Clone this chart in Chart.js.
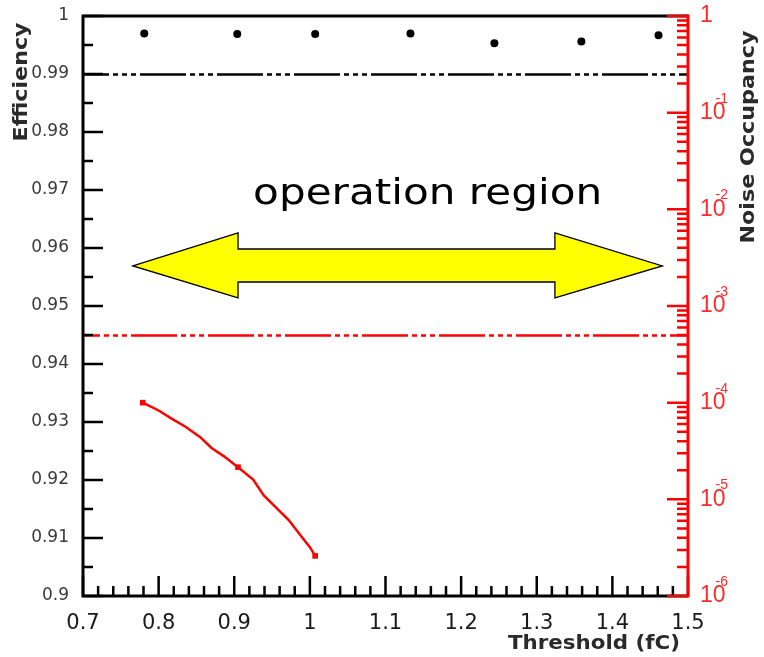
<!DOCTYPE html>
<html><head><meta charset="utf-8">
<script src="https://cdn.jsdelivr.net/npm/chart.js@4.4.1/dist/chart.umd.min.js"></script>
<style>html,body{margin:0;padding:0;background:#fff}#wrap{width:764px;height:657px}</style>
</head><body><div id="wrap"><canvas id="c" width="764" height="657"></canvas></div>
<script>
// ---- data ----
const effThreshold = [0.781, 0.904, 1.007, 1.133, 1.244, 1.359, 1.461];
const effValues    = [0.9970, 0.9969, 0.9969, 0.9970, 0.9953, 0.9956, 0.9967];

const noiseCurveThreshold = [0.779, 0.800, 0.815, 0.836, 0.855, 0.870, 0.886, 0.905, 0.925, 0.939, 0.956, 0.972, 0.987, 1.000, 1.007];
const noiseCurveValues    = [1.0e-4, 8.3e-5, 7.0e-5, 5.6e-5, 4.4e-5, 3.4e-5, 2.8e-5, 2.15e-5, 1.6e-5, 1.1e-5, 8.1e-6, 6.1e-6, 4.3e-6, 3.2e-6, 2.6e-6];
const noiseMeasThreshold  = [0.779, 0.905, 1.007];
const noiseMeasValues     = [1.0e-4, 2.15e-5, 2.6e-6];

const xTickValues = [0.7, 0.8, 0.9, 1.0, 1.1, 1.2, 1.3, 1.4, 1.5];
const xTickLabels = ['0.7', '0.8', '0.9', '1', '1.1', '1.2', '1.3', '1.4', '1.5'];
const effTickValues = [0.9, 0.91, 0.92, 0.93, 0.94, 0.95, 0.96, 0.97, 0.98, 0.99, 1.0];
const effTickLabels = ['0.9', '0.91', '0.92', '0.93', '0.94', '0.95', '0.96', '0.97', '0.98', '0.99', '1'];
const noiseTickValues = [1e-6, 1e-5, 1e-4, 1e-3, 1e-2, 1e-1, 1];
const noiseTickBase = ['10', '10', '10', '10', '10', '10', '1'];
const noiseTickExponents = ['-6', '-5', '-4', '-3', '-2', '-1', ''];

const effCut = 0.99;     // black dash-dotted line (left axis)
const noiseCut = 5e-4;   // red dash-dotted line (right axis)

const xTitle = 'Threshold (fC)';
const yTitle = 'Efficiency';
const y2Title = 'Noise Occupancy';
const regionLabel = 'operation region';
// double arrow annotation, in data units (x: threshold, y: efficiency axis)
const arrowTipX = [0.766, 1.466];
const arrowHeadBaseX = [0.905, 1.324];
const arrowCenterY = 0.9569;
const arrowHeadY = [0.95138, 0.96259];
const arrowShaftY = [0.95414, 0.95983];
const regionLabelPos = [1.1557, 0.96759];

const overlay = {
  id: 'overlay',
  beforeDatasetsDraw(chart) {
    const {ctx, chartArea: a, scales: {x, y, y2}} = chart;
    ctx.save();
    // dash-dotted cut lines
    ctx.lineWidth = 2.5;
    ctx.setLineDash([46, 4, 5, 4, 5, 4, 5, 4]);
    ctx.lineDashOffset = 20;
    ctx.strokeStyle = '#000';
    let py = Math.round(y.getPixelForValue(effCut)) + 0.5;
    ctx.beginPath(); ctx.moveTo(a.left, py); ctx.lineTo(a.right, py); ctx.stroke();
    ctx.strokeStyle = '#ff0000';
    ctx.lineDashOffset = 29;
    py = Math.round(y2.getPixelForValue(noiseCut)) + 0.5;
    ctx.beginPath(); ctx.moveTo(a.left, py); ctx.lineTo(a.right, py); ctx.stroke();
    ctx.setLineDash([]);

    // double arrow
    const X = v => x.getPixelForValue(v), Y = v => y.getPixelForValue(v);
    ctx.beginPath();
    ctx.moveTo(X(arrowTipX[0]), Y(arrowCenterY));
    ctx.lineTo(X(arrowHeadBaseX[0]), Y(arrowHeadY[1]));
    ctx.lineTo(X(arrowHeadBaseX[0]), Y(arrowShaftY[1]));
    ctx.lineTo(X(arrowHeadBaseX[1]), Y(arrowShaftY[1]));
    ctx.lineTo(X(arrowHeadBaseX[1]), Y(arrowHeadY[1]));
    ctx.lineTo(X(arrowTipX[1]), Y(arrowCenterY));
    ctx.lineTo(X(arrowHeadBaseX[1]), Y(arrowHeadY[0]));
    ctx.lineTo(X(arrowHeadBaseX[1]), Y(arrowShaftY[0]));
    ctx.lineTo(X(arrowHeadBaseX[0]), Y(arrowShaftY[0]));
    ctx.lineTo(X(arrowHeadBaseX[0]), Y(arrowHeadY[0]));
    ctx.closePath();
    ctx.fillStyle = '#ffff00';
    ctx.fill();
    ctx.lineWidth = 1.3;
    ctx.strokeStyle = '#000';
    ctx.lineJoin = 'miter';
    ctx.stroke();

    // region label
    ctx.font = '35px "DejaVu Sans"';
    ctx.fillStyle = '#000';
    ctx.textAlign = 'center';
    ctx.textBaseline = 'alphabetic';
    const w = ctx.measureText(regionLabel).width;
    ctx.translate(X(regionLabelPos[0]), Y(regionLabelPos[1]));
    ctx.scale(349 / w, 1);
    ctx.fillText(regionLabel, 0, 0);
    ctx.restore();
  },
  afterDraw(chart) {
    const {ctx, chartArea: a, scales: {x, y, y2}} = chart;
    ctx.save();
    ctx.lineCap = 'butt';
    // black axes
    ctx.strokeStyle = '#000';
    ctx.lineWidth = 3;
    ctx.beginPath();
    ctx.moveTo(a.right, a.top); ctx.lineTo(a.left, a.top);
    ctx.lineTo(a.left, a.bottom); ctx.lineTo(a.right, a.bottom);
    ctx.stroke();
    ctx.lineWidth = 2.5;
    // left ticks
    ctx.beginPath();
    for (let i = 0; i < effTickValues.length; i++) {
      const p = y.getPixelForValue(effTickValues[i]);
      ctx.moveTo(a.left, p); ctx.lineTo(a.left + 20, p);
      if (i < effTickValues.length - 1) {
        const m = y.getPixelForValue((effTickValues[i] + effTickValues[i + 1]) / 2);
        ctx.moveTo(a.left, m); ctx.lineTo(a.left + 10, m);
      }
    }
    // bottom ticks
    for (let i = 0; i < xTickValues.length; i++) {
      const p = x.getPixelForValue(xTickValues[i]);
      ctx.moveTo(p, a.bottom); ctx.lineTo(p, a.bottom - 20);
      if (i < xTickValues.length - 1) {
        for (let k = 1; k < 5; k++) {
          const m = x.getPixelForValue(xTickValues[i] + (xTickValues[i + 1] - xTickValues[i]) * k / 5);
          ctx.moveTo(m, a.bottom); ctx.lineTo(m, a.bottom - 10);
        }
      }
    }
    ctx.stroke();
    // red right axis
    ctx.strokeStyle = '#ff0000';
    ctx.lineWidth = 3;
    ctx.beginPath(); ctx.moveTo(a.right, a.top - 1.5); ctx.lineTo(a.right, a.bottom + 1.5); ctx.stroke();
    ctx.lineWidth = 2.5;
    ctx.beginPath();
    for (let i = 0; i < noiseTickValues.length; i++) {
      const v = noiseTickValues[i];
      const p = y2.getPixelForValue(v);
      ctx.moveTo(a.right, p); ctx.lineTo(a.right - 21, p);
      if (i < noiseTickValues.length - 1) {
        for (let m = 2; m < 10; m++) {
          const q = y2.getPixelForValue(v * m);
          ctx.moveTo(a.right, q); ctx.lineTo(a.right - 11, q);
        }
      }
    }
    ctx.stroke();

    // exponents of the right-axis labels
    ctx.fillStyle = '#ff2a2a';
    ctx.textAlign = 'left';
    ctx.textBaseline = 'alphabetic';
    const baseFont = '23px "Liberation Sans"';
    for (let i = 0; i < noiseTickValues.length; i++) {
      if (!noiseTickExponents[i]) continue;
      const p = y2.getPixelForValue(noiseTickValues[i]);
      ctx.font = baseFont;
      const bw = ctx.measureText(noiseTickBase[i]).width;
      ctx.font = '14px "Liberation Sans"';
      ctx.fillText(noiseTickExponents[i], a.right + 4 + bw - 2, p - 10);
    }

    // titles
    ctx.fillStyle = '#2a2a2a';
    ctx.font = 'bold 19px "DejaVu Sans"';
    ctx.textAlign = 'center';
    ctx.textBaseline = 'middle';
    const drawT = (t, cx, cy, rot, len) => {
      ctx.save();
      const w = ctx.measureText(t).width;
      ctx.translate(cx, cy); ctx.rotate(rot); ctx.scale(len / w, 1);
      ctx.fillText(t, 0, 0);
      ctx.restore();
    };
    drawT(xTitle, 594, 644, 0, 172);
    drawT(yTitle, 22, 82, -Math.PI / 2, 119);
    drawT(y2Title, 749, 137, -Math.PI / 2, 213);
    ctx.restore();
  }
};

const fixVertical = (width) => (s) => { s.width = width; s.paddingTop = 0; s.paddingBottom = 0; };

new Chart(document.getElementById('c'), {
  type: 'scatter',
  data: {
    datasets: [
      {
        label: 'Efficiency',
        data: effThreshold.map((t, i) => ({x: t, y: effValues[i]})),
        yAxisID: 'y',
        pointRadius: 4,
        pointBackgroundColor: '#000',
        pointBorderWidth: 0,
        showLine: false
      },
      {
        label: 'Noise occupancy',
        data: noiseCurveThreshold.map((t, i) => ({x: t, y: noiseCurveValues[i]})),
        yAxisID: 'y2',
        showLine: true,
        borderColor: '#ff0000',
        borderWidth: 2.5,
        pointRadius: 0,
        tension: 0
      },
      {
        label: 'Noise occupancy (measured)',
        data: noiseMeasThreshold.map((t, i) => ({x: t, y: noiseMeasValues[i]})),
        yAxisID: 'y2',
        pointStyle: 'rect',
        pointRadius: 4,
        pointBackgroundColor: '#ff0000',
        pointBorderWidth: 0,
        showLine: false
      }
    ]
  },
  options: {
    responsive: false,
    animation: false,
    events: [],
    layout: {padding: {top: 16, left: 0, right: 0, bottom: 0}},
    plugins: {legend: {display: false}, tooltip: {enabled: false}},
    scales: {
      x: {
        type: 'linear', position: 'bottom', min: 0.7, max: 1.5,
        afterBuildTicks: s => { s.ticks = xTickValues.map(v => ({value: v})); },
        afterFit: s => { s.height = 61; s.paddingLeft = 0; s.paddingRight = 0; },
        ticks: {
          callback: (v, i) => xTickLabels[i],
          font: {family: 'DejaVu Sans', size: 21},
          color: '#1a1a1a', padding: 7, maxRotation: 0, autoSkip: false
        },
        grid: {display: false}, border: {display: false}
      },
      y: {
        type: 'linear', position: 'left', min: 0.9, max: 1.0,
        afterBuildTicks: s => { s.ticks = effTickValues.map(v => ({value: v})); },
        afterFit: fixVertical(83),
        ticks: {
          callback: (v, i) => effTickLabels[i],
          font: {family: 'DejaVu Sans', size: 17},
          color: '#3a3a3a', padding: 6, autoSkip: false
        },
        grid: {display: false}, border: {display: false}
      },
      y2: {
        type: 'logarithmic', position: 'right', min: 1e-6, max: 1,
        afterBuildTicks: s => { s.ticks = noiseTickValues.map(v => ({value: v})); },
        afterFit: fixVertical(76),
        ticks: {
          callback: (v, i) => noiseTickBase[i],
          font: {family: 'Liberation Sans', size: 23},
          color: '#ff2a2a', padding: 4, autoSkip: false
        },
        grid: {display: false}, border: {display: false}
      }
    }
  },
  plugins: [overlay]
});
</script>
</body></html>
